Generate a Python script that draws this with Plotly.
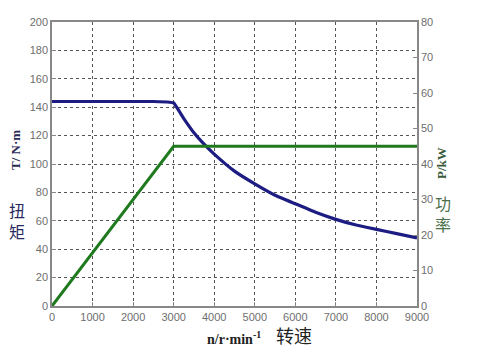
import plotly.graph_objects as go

speed_torque = [0, 500, 1000, 1500, 2000, 2500, 2900, 3000, 3250, 3500, 3750, 4000, 4500, 5000, 5500, 6000, 6500, 7000, 7500, 8000, 8500, 9000]
torque = [144, 144, 144, 144, 144, 144, 143.5, 143, 132, 122, 114, 107, 95, 86, 78, 72, 66, 61, 57, 54, 51, 48]
speed_power = [0, 3000, 9000]
power = [0, 45, 45]

x_ticks = [0, 1000, 2000, 3000, 4000, 5000, 6000, 7000, 8000, 9000]
left_ticks = [0, 20, 40, 60, 80, 100, 120, 140, 160, 180, 200]
right_ticks = [0, 10, 20, 30, 40, 50, 60, 70, 80]

L, R, T, B = 52, 70, 22, 49
W, H = 487, 355
pw, ph = W - L - R, H - T - B

def fx(px):
    return (px - L) / pw

def fy(py):
    return (H - B - py) / ph

tickfont = dict(family="Liberation Sans, Arial", size=11, color="#6e6e6e")

fig = go.Figure()
fig.add_trace(go.Scatter(x=speed_power, y=power, mode="lines", yaxis="y2",
                         line=dict(color="#1f7a1f", width=3), showlegend=False))
fig.add_trace(go.Scatter(x=speed_torque, y=torque, mode="lines",
                         line=dict(color="#1c1c82", width=3.2, shape="spline", smoothing=0.3),
                         showlegend=False))

fig.update_layout(
    width=W, height=H,
    margin=dict(l=L, r=R, t=T, b=B),
    paper_bgcolor="white", plot_bgcolor="white",
    xaxis=dict(range=[0, 9000], tickvals=x_ticks, ticktext=[str(v) for v in x_ticks],
               showgrid=True, gridcolor="#555555", griddash="dot", gridwidth=1,
               zeroline=False, showline=True, linecolor="#888888", linewidth=1.5, mirror=True,
               ticks="inside", ticklen=4, tickcolor="#888888", tickfont=tickfont),
    yaxis=dict(range=[0, 200], tickvals=left_ticks, ticktext=[str(v) for v in left_ticks],
               showgrid=True, gridcolor="#555555", griddash="dot", gridwidth=1,
               zeroline=False, showline=True, linecolor="#888888", linewidth=1.5,
               ticks="inside", ticklen=4, tickcolor="#888888", tickfont=tickfont),
    yaxis2=dict(range=[0, 80], tickvals=right_ticks, ticktext=[str(v) for v in right_ticks],
                overlaying="y", side="right", showgrid=False, zeroline=False,
                showline=True, linecolor="#888888", linewidth=1.5,
                ticks="inside", ticklen=4, tickcolor="#888888", tickfont=tickfont),
)

ann = [
    dict(text="<b>T/ N·m</b>", x=fx(15), y=fy(150), textangle=-90,
         font=dict(family="Liberation Serif, Times New Roman", size=13, color="#2a2a55")),
    dict(text="扭<br>矩", x=fx(17), y=fy(220), borderpad=0,
         font=dict(family="Noto Sans CJK SC", size=16, color="#2a2a60")),
    dict(text="<b>P/kW</b>", x=fx(441), y=fy(163), textangle=-90,
         font=dict(family="Liberation Serif, Times New Roman", size=13, color="#3a5a3a")),
    dict(text="功<br>率", x=fx(443), y=fy(213), borderpad=0,
         font=dict(family="Noto Sans CJK SC", size=16, color="#4a704a")),
    dict(text="<b>n/r·min<sup>-1</sup></b>", x=fx(234), y=fy(338),
         font=dict(family="Liberation Serif, Times New Roman", size=14, color="#222222")),
    dict(text="转速", x=fx(294), y=fy(335),
         font=dict(family="Noto Sans CJK SC", size=18, color="#222222")),
]
for a in ann:
    a.update(xref="paper", yref="paper", showarrow=False, xanchor="center", yanchor="middle")
    fig.add_annotation(**a)

fig.write_html("out.html")
